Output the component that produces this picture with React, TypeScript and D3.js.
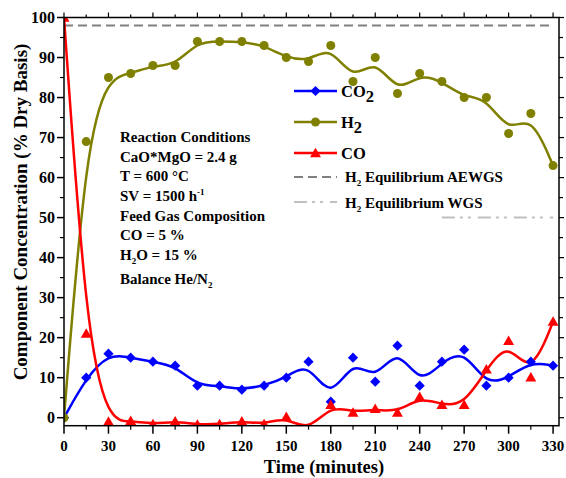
import React from "react";
import * as d3 from "d3";

const times = [0, 15, 30, 45, 60, 75, 90, 105, 120, 135, 150, 165, 180, 195, 210, 225, 240, 255, 270, 285, 300, 315, 330];
const co2 = [0, 10, 16, 15, 14, 13, 8, 8, 7, 8, 10, 14, 4, 15, 9, 18, 8, 14, 17, 8, 10, 14, 13];
const h2 = [0, 69, 85, 86, 88, 88, 94, 94, 94, 93, 90, 89, 93, 84, 90, 81, 86, 84, 80, 80, 71, 76, 63];
const co = [100, 21, -1, -0.8, -1.6, -0.9, -1.7, -1.6, -0.9, -1.6, 0.2, -3.5, 3.2, 1.3, 2.2, 1.3, 5.2, 3.2, 3.2, 12.1, 19.2, 10.1, 24];
const aewgsLevel = 98;
const wgsLevel = 50;
const wgsRange = [255, 330];
const xTicks = d3.range(0, 331, 30);
const xMinor = d3.range(15, 331, 30);
const yTicks = d3.range(0, 101, 10);
const yMinor = d3.range(5, 100, 10);

const FONT = "'Liberation Serif', 'Times New Roman', serif";
const W = 566, H = 478;
const L = 64, R = 559, T = 17.5, B = 425.7;

export default function App() {
  const x = d3.scaleLinear().domain([0, 334]).range([L, R]);
  const y = d3.scaleLinear().domain([-2, 100]).range([B, T]);
  const line = (vals: number[]) =>
    d3.line<number>().x((_, i) => x(times[i])).y((v) => y(v)).curve(d3.curveBasis)(vals) || "";

  const diamond = d3.symbol().type(d3.symbolSquare).size(52)() || "";
  const tri = d3.symbol().type(d3.symbolTriangle).size(52)() || "";

  const series = [
    { name: "co2", vals: co2, color: "#0000FF", marker: "diamond" },
    { name: "h2", vals: h2, color: "#808000", marker: "circle" },
    { name: "co", vals: co, color: "#FF0000", marker: "triangle" },
  ];

  const marker = (type: string, color: string, cx: number, cy: number, key?: any) => {
    if (type === "circle") return <circle key={key} cx={cx} cy={cy} r={4.5} fill={color} />;
    if (type === "diamond") return <path key={key} d={diamond} transform={`translate(${cx},${cy}) rotate(45)`} fill={color} />;
    return <path key={key} d={tri} transform={`translate(${cx},${cy + 1})`} fill={color} />;
  };

  const legendX1 = 294, legendX2 = 337, legendTx = 341;
  const legendItems = [
    { y: 91, color: "#0000FF", marker: "diamond", main: "CO", sub: "2" },
    { y: 122, color: "#808000", marker: "circle", main: "H", sub: "2" },
    { y: 153, color: "#FF0000", marker: "triangle", main: "CO", sub: "" },
  ];

  const annX = 120;
  const annFs = 15;

  return (
    <svg width={W} height={H} style={{ position: "absolute", left: 0, top: 0, background: "#fff" }} fontFamily={FONT} fontWeight="bold">
      <defs>
        <clipPath id="plotclip">
          <rect x={L} y={T} width={R - L} height={B - T} />
        </clipPath>
      </defs>

      {/* reference lines */}
      <line x1={x(0)} x2={x(330)} y1={y(aewgsLevel)} y2={y(aewgsLevel)} stroke="#808080" strokeWidth={2} strokeDasharray="9,5" />
      <line x1={x(wgsRange[0])} x2={x(wgsRange[1])} y1={y(wgsLevel)} y2={y(wgsLevel)} stroke="#C0C0C0" strokeWidth={2} strokeDasharray="13,5,3,5,3,7" />

      {/* annotation */}
      <g fontSize={annFs} fill="#000">
        <text x={annX} y={142}>Reaction Conditions</text>
        <text x={annX} y={162}>CaO*MgO = 2.4 g</text>
        <text x={annX} y={181}>T = 600 °C</text>
        <text x={annX} y={201}>SV = 1500 h<tspan fontSize={9} dy={-6}>-1</tspan></text>
        <text x={annX} y={221}>Feed Gas Composition</text>
        <text x={annX} y={240}>CO = 5 %</text>
        <text x={annX} y={260}>H<tspan fontSize={9} dy={4}>2</tspan><tspan dy={-4}>O = 15 %</tspan></text>
        <text x={annX} y={284}>Balance He/N<tspan fontSize={9} dy={4}>2</tspan></text>
      </g>

      {/* legend */}
      <g>
        {legendItems.map((it, i) => (
          <g key={i}>
            <line x1={legendX1} x2={legendX2} y1={it.y} y2={it.y} stroke={it.color} strokeWidth={2.5} />
            {marker(it.marker, it.color, (legendX1 + legendX2) / 2, it.y)}
            <text x={legendTx} y={it.y + 6} fontSize={16.5}>
              {it.main}
              {it.sub && <tspan fontSize={16.5} dy={5}>{it.sub}</tspan>}
            </text>
          </g>
        ))}
        <line x1={legendX1} x2={legendX2} y1={177} y2={177} stroke="#808080" strokeWidth={2} strokeDasharray="9,5" />
        <text x={legendTx + 4} y={182} fontSize={15}>H<tspan fontSize={9} dy={4}>2</tspan><tspan dy={-4}> Equilibrium AEWGS</tspan></text>
        <line x1={legendX1} x2={legendX2} y1={202} y2={202} stroke="#C0C0C0" strokeWidth={2} strokeDasharray="13,5,3,5,3,7" />
        <text x={legendTx + 4} y={208} fontSize={15}>H<tspan fontSize={9} dy={4}>2</tspan><tspan dy={-4}> Equilibrium WGS</tspan></text>
      </g>

      {/* series */}
      <g clipPath="url(#plotclip)">
        {series.map((s) => (
          <path key={s.name} d={line(s.vals)} fill="none" stroke={s.color} strokeWidth={2.5} />
        ))}
        {series.map((s) =>
          s.vals.map((v, i) => marker(s.marker, s.color, x(times[i]), y(v), s.name + i))
        )}
      </g>

      {/* frame */}
      <rect x={L} y={T} width={R - L} height={B - T} fill="none" stroke="#000" strokeWidth={1.5} />

      {/* left axis */}
      {yTicks.map((t) => (
        <g key={"yt" + t}>
          <line x1={L - 7} x2={L} y1={y(t)} y2={y(t)} stroke="#000" strokeWidth={1.5} />
          <line x1={R} x2={R + 5} y1={y(t)} y2={y(t)} stroke="#000" strokeWidth={1.2} />
          <text x={L - 9} y={y(t) + 5.5} fontSize={16} textAnchor="end">{t}</text>
        </g>
      ))}
      {yMinor.map((t) => (
        <g key={"ym" + t}>
          <line x1={L - 4} x2={L} y1={y(t)} y2={y(t)} stroke="#000" strokeWidth={1.2} />
          <line x1={R} x2={R + 4} y1={y(t)} y2={y(t)} stroke="#000" strokeWidth={1.2} />
        </g>
      ))}

      {/* bottom axis */}
      {xTicks.map((t) => (
        <g key={"xt" + t}>
          <line x1={x(t)} x2={x(t)} y1={B} y2={B + 8} stroke="#000" strokeWidth={1.5} />
          <line x1={x(t)} x2={x(t)} y1={T - 5} y2={T} stroke="#000" strokeWidth={1.2} />
          <text x={x(t)} y={B + 25} fontSize={15} textAnchor="middle">{t}</text>
        </g>
      ))}
      {xMinor.map((t) => (
        <g key={"xm" + t}>
          <line x1={x(t)} x2={x(t)} y1={B} y2={B + 4} stroke="#000" strokeWidth={1.2} />
          <line x1={x(t)} x2={x(t)} y1={T - 3} y2={T} stroke="#000" strokeWidth={1.2} />
        </g>
      ))}

      {/* axis titles */}
      <text x={324} y={473} fontSize={18.5} textAnchor="middle">Time (minutes)</text>
      <text transform={`translate(27,212) rotate(-90)`} fontSize={19} textAnchor="middle">Component Concentration (% Dry Basis)</text>
    </svg>
  );
}
